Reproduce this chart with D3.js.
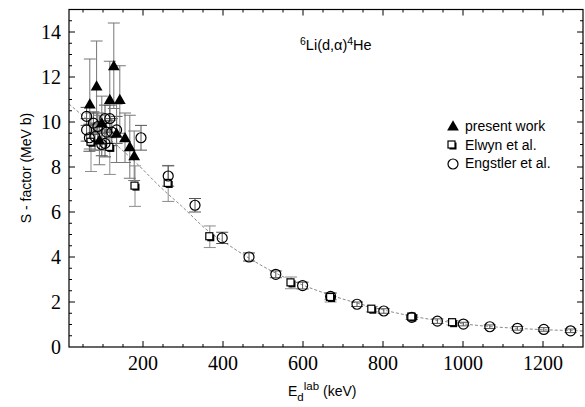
<!DOCTYPE html>
<html><head><meta charset="utf-8">
<script src="https://cdn.jsdelivr.net/npm/d3@7"></script>
<style>
body{margin:0;background:#fff;}
svg{display:block;}
</style></head>
<body>
<svg id="c" width="585" height="407"></svg>
<script>
// ---- data (E_d lab in keV, S in MeV b, symmetric error) ----
const presentWork = [
  [67,10.8,2.0],[84,11.6,2.0],[91,9.2,1.1],[97,9.95,1.2],[117,11.0,1.7],
  [127,12.5,1.9],[134,9.5,1.3],[142,11.0,1.5],[155,9.3,1.1],[167,8.9,1.4],[178,8.5,1.1]
];
const elwyn = [
  [70,9.1,1.3],[117,8.87,1.2],[180,7.15,0.9],[263,7.27,0.8],[367,4.9,0.48],
  [570,2.85,0.26],[669,2.2,0.2],[772,1.68,0.12],[872,1.33,0.1],[974,1.08,0.1]
];
const engstler = [
  [59,10.25,0.4],[59,9.65,0.5],[66,9.3,0.6],[76,9.95,0.5],[80,9.35,0.6],[87,9.8,0.6],
  [97,9.0,0.5],[105,10.15,0.6],[105,9.05,0.6],[109,9.55,0.5],[117,10.15,0.6],[122,9.55,0.6],
  [134,9.65,0.6],[195,9.3,0.55],[263,7.6,0.45],[330,6.3,0.3],[398,4.85,0.25],[465,4.0,0.18],
  [532,3.23,0.15],[599,2.73,0.15],[669,2.25,0.15],[735,1.9,0.1],[802,1.6,0.1],[872,1.32,0.1],
  [936,1.15,0.1],[1001,1.02,0.08],[1067,0.9,0.08],[1136,0.83,0.08],[1202,0.78,0.08],[1269,0.72,0.08]
];
const fitCurve = [
  [15,10.8],[100,9.5],[176,8.3],[250,7.0],[296,6.27],[367,5.1],[400,4.7],[465,3.95],
  [530,3.3],[600,2.75],[670,2.3],[735,1.95],[800,1.65],[870,1.38],[936,1.18],[1000,1.03],
  [1067,0.91],[1136,0.83],[1200,0.77],[1269,0.73],[1300,0.71]
];
const xTicks = [200,400,600,800,1000,1200];
const yTicks = [0,2,4,6,8,10,12,14];
const legendLabels = ["present work","Elwyn et al.","Engstler et al."];

// ---- layout ----
const L = 69, R = 583, T = 9.5, B = 347;
const svg = d3.select("#c");
const x = d3.scaleLinear().domain([15,1300]).range([L,R]);
const y = d3.scaleLinear().domain([0,15]).range([B,T]);

// curve
svg.append("path").datum(fitCurve)
  .attr("d", d3.line().x(d=>x(d[0])).y(d=>y(d[1])).curve(d3.curveMonotoneX))
  .attr("fill","none").attr("stroke","#8a8a8a").attr("stroke-width",1)
  .attr("stroke-dasharray","3,2");

// error bars
function errBars(data, color, w, cap){
  const g = svg.append("g");
  data.forEach(d=>{
    const cx = x(d[0]), y1 = y(d[1]+d[2]), y2 = y(d[1]-d[2]);
    g.append("line").attr("x1",cx).attr("x2",cx).attr("y1",y1).attr("y2",y2)
      .attr("stroke",color).attr("stroke-width",w);
    [y1,y2].forEach(yy=>g.append("line").attr("x1",cx-cap).attr("x2",cx+cap)
      .attr("y1",yy).attr("y2",yy).attr("stroke",color).attr("stroke-width",w));
  });
}
errBars(elwyn, "#8c8c8c", 1, 6);
errBars(engstler, "#555", 1, 6);
errBars(presentWork, "#777", 1, 6);

// markers
function drawSquare(g, cx, cy){
  g.append("rect").attr("x",cx-2.5).attr("y",cy-2.5).attr("width",7).attr("height",7).attr("fill","#000");
  g.append("rect").attr("x",cx-4).attr("y",cy-4).attr("width",7).attr("height",7)
    .attr("fill","#fff").attr("stroke","#000").attr("stroke-width",1.2);
}
function drawCircle(g, cx, cy){
  g.append("circle").attr("cx",cx).attr("cy",cy).attr("r",5)
    .attr("fill","none").attr("stroke","#000").attr("stroke-width",1.2);
}
const triPath = d3.symbol().type(d3.symbolTriangle).size(60);
function drawTri(g, cx, cy){
  g.append("path").attr("d",triPath()).attr("transform",`translate(${cx},${cy+1})`).attr("fill","#000");
}
const gm = svg.append("g");
elwyn.forEach(d=>drawSquare(gm, x(d[0]), y(d[1])));
engstler.forEach(d=>drawCircle(gm, x(d[0]), y(d[1])));
presentWork.forEach(d=>drawTri(gm, x(d[0]), y(d[1])));

// frame
svg.append("rect").attr("x",L).attr("y",T).attr("width",R-L).attr("height",B-T)
  .attr("fill","none").attr("stroke","#000").attr("stroke-width",1.2);

// ticks (inward on all sides)
const gt = svg.append("g").attr("stroke","#000").attr("stroke-width",1);
d3.range(50,1300,50).forEach(v=>{
  const len = (v%200===0)?6:3, xx = x(v);
  gt.append("line").attr("x1",xx).attr("x2",xx).attr("y1",B).attr("y2",B-len);
  gt.append("line").attr("x1",xx).attr("x2",xx).attr("y1",T).attr("y2",T+len);
});
d3.range(0.5,15,0.5).forEach(v=>{
  const len = (v%2===0)?6:3, yy = y(v);
  gt.append("line").attr("x1",L).attr("x2",L+len).attr("y1",yy).attr("y2",yy);
  gt.append("line").attr("x1",R).attr("x2",R-len).attr("y1",yy).attr("y2",yy);
});

// tick labels
const serif = "'Liberation Serif','Times New Roman',serif";
svg.append("g").selectAll("text").data(xTicks).join("text")
  .attr("x",d=>x(d)).attr("y",369.5).attr("text-anchor","middle")
  .attr("font-family",serif).attr("font-size",20).text(d=>d);
svg.append("g").selectAll("text").data(yTicks).join("text")
  .attr("x",61).attr("y",d=>y(d)+6.5).attr("text-anchor","end")
  .attr("font-family",serif).attr("font-size",20).text(d=>d);

const sans = "'Liberation Sans',Arial,Helvetica,sans-serif";
// axis titles
svg.append("text").attr("transform","translate(31,168) rotate(-90)")
  .attr("text-anchor","middle").attr("font-family",sans).attr("font-size",14)
  .text("S - factor (MeV b)");
const xt = svg.append("text").attr("x",288).attr("y",396).attr("font-family",sans).attr("font-size",14);
xt.append("tspan").text("E");
xt.append("tspan").attr("dy",5).attr("font-size",11.5).text("d");
xt.append("tspan").attr("dy",-11).attr("font-size",11.5).text("lab");
xt.append("tspan").attr("dy",6).text(" (keV)");

// reaction label
const rl = svg.append("text").attr("x",300).attr("y",50).attr("font-family",sans).attr("font-size",14.5);
rl.append("tspan").attr("dy",-5).attr("font-size",10.5).text("6");
rl.append("tspan").attr("dy",5).text("Li(d,\u03B1)");
rl.append("tspan").attr("dy",-5).attr("font-size",10.5).text("4");
rl.append("tspan").attr("dy",5).text("He");

// legend
const lg = svg.append("g");
drawTri(lg, 453, 126);
drawSquare(lg, 452, 145);
drawCircle(lg, 453, 164);
lg.selectAll("text.l").data(legendLabels).join("text")
  .attr("x",465).attr("y",(d,i)=>131+i*18.5)
  .attr("font-family",sans).attr("font-size",14).text(d=>d);
</script>
</body></html>
